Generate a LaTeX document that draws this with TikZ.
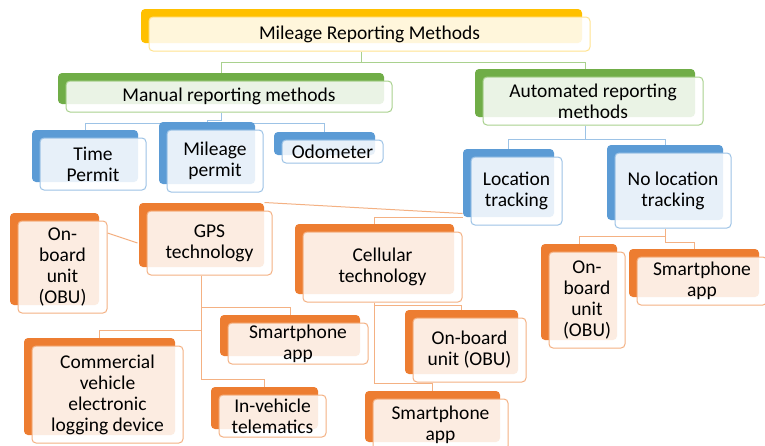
\documentclass[tikz,border=0pt]{standalone}
\usepackage{fontspec}
\setmainfont{Carlito}
\usetikzlibrary{shadows,backgrounds}
\definecolor{goldback}{HTML}{FFC000}
\definecolor{goldline}{HTML}{FFE38F}
\definecolor{greenback}{HTML}{70AD47}
\definecolor{greenline}{HTML}{A9D18E}
\definecolor{blueback}{HTML}{5B9BD5}
\definecolor{blueline}{HTML}{9DC3E6}
\definecolor{orangeback}{HTML}{ED7D31}
\definecolor{orangeline}{HTML}{F4B183}
\newcommand{\lblfont}{\fontsize{19.5}{21}\selectfont}

\begin{document}
\begin{tikzpicture}[x=1pt,y=-1pt,line join=round,
  box/.style={draw,line width=1pt,rounded corners=4pt,fill=white,fill opacity=0.86,text opacity=1,align=center,inner sep=0pt,font=\lblfont},
  goldbox/.style={box,draw=goldline,general shadow={shadow xshift=-8pt,shadow yshift=8pt,fill=goldback,opacity=1}},
  greenbox/.style={box,draw=greenline,general shadow={shadow xshift=-8pt,shadow yshift=8pt,fill=greenback,opacity=1}},
  bluebox/.style={box,draw=blueline,general shadow={shadow xshift=-8pt,shadow yshift=8pt,fill=blueback,opacity=1}},
  orangebox/.style={box,draw=orangeline,general shadow={shadow xshift=-8pt,shadow yshift=8pt,fill=orangeback,opacity=1}},
  gwire/.style={draw=greenline,line width=1pt},
  bwire/.style={draw=blueline,line width=1pt},
  owire/.style={draw=orangeline,line width=1pt}]
  \useasboundingbox (0,0) rectangle (765,445);

  \node[goldbox,minimum width=441pt,minimum height=34pt] (top) at (369.5,34) {Mileage Reporting Methods};
  \node[greenbox,minimum width=326pt,minimum height=31pt] (manual) at (229,96.5) {Manual reporting methods};
  \node[greenbox,minimum width=220pt,minimum height=48pt] (auto) at (593,101) {Automated reporting\\methods};

  \node[bluebox,minimum width=106pt,minimum height=52pt] (timep) at (93,164) {Time\\Permit};
  \node[bluebox,minimum width=96pt,minimum height=62pt] (mileage) at (215,161) {Mileage\\permit};
  \node[bluebox,minimum width=101pt,minimum height=23pt] (odo) at (332.5,151.5) {Odometer};
  \node[bluebox,minimum width=91pt,minimum height=68pt] (loc) at (516.5,191) {Location\\tracking};
  \node[bluebox,minimum width=116pt,minimum height=75pt] (noloc) at (673,190.5) {No location\\tracking};

  \node[orangebox,minimum width=125pt,minimum height=64pt] (gps) at (209.5,243) {GPS\\technology};
  \node[orangebox,minimum width=89pt,minimum height=92pt] (obul) at (62.5,267) {On-\\board\\unit\\(OBU)};
  \node[orangebox,minimum width=159pt,minimum height=70pt] (cell) at (382.5,267) {Cellular\\technology};
  \node[orangebox,minimum width=140pt,minimum height=41pt] (smartg) at (298,343.5) {Smartphone\\app};
  \node[orangebox,minimum width=151pt,minimum height=97pt] (cvel) at (107.5,394.5) {Commercial\\vehicle\\electronic\\logging device};
  \node[orangebox,minimum width=107pt,minimum height=42pt] (inveh) at (272.5,416) {In-vehicle\\telematics};
  \node[orangebox,minimum width=113pt,minimum height=64pt] (obuc) at (469.5,350) {On-board\\unit (OBU)};
  \node[orangebox,minimum width=135pt,minimum height=51pt] (smartc) at (440.5,424.5) {Smartphone\\app};
  \node[orangebox,minimum width=76pt,minimum height=96pt] (obun) at (587,300) {On-\\board\\unit\\(OBU)};
  \node[orangebox,minimum width=130pt,minimum height=48pt] (smartn) at (702,281) {Smartphone\\app};

  \begin{scope}[on background layer]
    \fill[white] (0,0) rectangle (765,445);
    \draw[gwire] ([xshift=-8pt]top.south) -- ++(0,11) coordinate (t1) -| ([shift={(-8pt,8pt)}]manual.north);
    \draw[gwire] (t1) -| ([shift={(-8pt,8pt)}]auto.north);

    \draw[bwire] ([xshift=-8pt]manual.south) -- ++(0,8) -| ([shift={(-8pt,8pt)}]mileage.north);
    \draw[bwire] ([shift={(-8pt,8pt)}]timep.north) -- ++(0,-6) -| ([shift={(-8pt,8pt)}]odo.north);
    \draw[bwire] ([xshift=-8pt]auto.south) -- ++(0,14) coordinate (a1) -| ([shift={(-8pt,8pt)}]loc.north);
    \draw[bwire] (a1) -| ([shift={(-8pt,8pt)}]noloc.north);

    \draw[owire] ([shift={(-8pt,12pt)}]loc.south west) -- ([shift={(-8pt,8pt)}]gps.north east);
    \draw[owire] ([shift={(-8pt,8pt)}]loc.south west) -| ([shift={(-8pt,8pt)}]cell.north);
    \draw[owire] ([yshift=34pt]obul.east) -- ([xshift=-9pt]gps.west);
    \draw[owire] ([xshift=-8pt]gps.south) -- ++(0,104) -| ([shift={(-8pt,8pt)}]inveh.north);
    \draw[owire] ([xshift=-8pt]gps.south) ++(0,32) -| ([shift={(-8pt,8pt)}]smartg.north);
    \draw[owire] ([xshift=-8pt]gps.south) ++(0,55) -| ([shift={(-8pt,8pt)}]cvel.north);
    \draw[owire] ([xshift=-8pt]cell.south) -- ++(0,81) -| ([shift={(-8pt,8pt)}]smartc.north);
    \draw[owire] ([xshift=-8pt]cell.south) ++(0,3) -| ([shift={(-8pt,8pt)}]obuc.north);
    \draw[owire] ([xshift=-8pt]noloc.south) -- ++(0,14) -| ([shift={(-8pt,8pt)}]smartn.north);
    \draw[owire] ([xshift=-8pt]noloc.south) ++(0,8) -| ([shift={(-8pt,8pt)}]obun.north);
  \end{scope}
\end{tikzpicture}
\end{document}
